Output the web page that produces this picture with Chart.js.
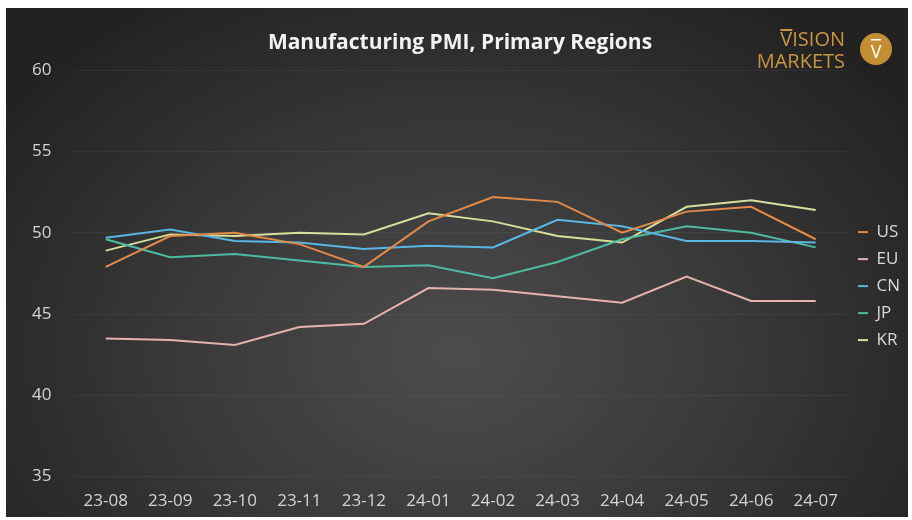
<!DOCTYPE html>
<html>
<head>
<meta charset="utf-8">
<script src="https://cdn.jsdelivr.net/npm/chart.js"></script>
<style>
  html, body { margin: 0; padding: 0; background: #fff; }
  #wrap { position: absolute; left: 6px; top: 8px; width: 902px; height: 509px; }
</style>
</head>
<body>
<div id="wrap"><canvas id="myChart"></canvas></div>
<script>
const months = ['23-08', '23-09', '23-10', '23-11', '23-12', '24-01', '24-02', '24-03', '24-04', '24-05', '24-06', '24-07'];

const usVals = [47.9, 49.8, 50.0, 49.3, 47.9, 50.7, 52.2, 51.9, 50.0, 51.3, 51.6, 49.6];
const euVals = [43.5, 43.4, 43.1, 44.2, 44.4, 46.6, 46.5, 46.1, 45.7, 47.3, 45.8, 45.8];
const cnVals = [49.7, 50.2, 49.5, 49.4, 49.0, 49.2, 49.1, 50.8, 50.4, 49.5, 49.5, 49.4];
const jpVals = [49.6, 48.5, 48.7, 48.3, 47.9, 48.0, 47.2, 48.2, 49.6, 50.4, 50.0, 49.1];
const krVals = [48.9, 49.9, 49.8, 50.0, 49.9, 51.2, 50.7, 49.8, 49.4, 51.6, 52.0, 51.4];

const ctx = document.getElementById('myChart');

// dark radial backdrop
const backdrop = {
  id: 'backdrop',
  beforeDraw(chart) {
    const c = chart.ctx;
    const w = chart.width, h = chart.height;
    c.save();
    c.fillStyle = '#222222';
    c.fillRect(0, 0, w, h);
    c.translate(w / 2, h * 0.68);
    c.scale(1, 0.75);
    const g = c.createRadialGradient(0, 0, 0, 0, 0, w * 0.62);
    g.addColorStop(0, '#4c4c4c');
    g.addColorStop(0.45, '#3b3b3b');
    g.addColorStop(1, '#222222');
    c.fillStyle = g;
    c.fillRect(-w, -h * 2, w * 2, h * 4);
    c.restore();
  }
};

// brand mark, top right
const logo = {
  id: 'logo',
  afterDraw(chart) {
    const c = chart.ctx;
    c.save();
    c.fillStyle = '#c8963e';
    c.font = '20px "Open Sans"';
    c.textAlign = 'right';
    c.textBaseline = 'alphabetic';
    c.fillText('VISION', 839, 38);
    c.fillText('MARKETS', 839, 60);
    const vw = c.measureText('VISION').width;
    c.fillRect(839 - vw, 21, 12, 2);
    c.beginPath();
    c.arc(870, 41, 16, 0, Math.PI * 2);
    c.fillStyle = '#c48f34';
    c.fill();
    c.fillStyle = '#ffffff';
    c.textAlign = 'center';
    c.font = '18px "Open Sans"';
    c.fillText('V', 870, 50);
    c.fillRect(865, 31, 10, 1.5);
    c.restore();
  }
};

function ds(label, data, color) {
  return {
    label: label,
    data: data,
    borderColor: color,
    backgroundColor: color,
    borderWidth: 2,
    pointRadius: 0,
    tension: 0
  };
}

new Chart(ctx, {
  type: 'line',
  data: {
    labels: months,
    datasets: [
      ds('US', usVals, '#e38a48'),
      ds('EU', euVals, '#e6b2ae'),
      ds('CN', cnVals, '#5ab6e2'),
      ds('JP', jpVals, '#4dbba2'),
      ds('KR', krVals, '#d6df9c')
    ]
  },
  options: {
    responsive: true,
    maintainAspectRatio: false,
    animation: false,
    layout: { padding: { left: 4, right: -2, top: 0, bottom: -8 } },
    plugins: {
      title: {
        display: true,
        text: 'Manufacturing PMI, Primary Regions',
        color: '#f2f2f2',
        font: { family: '"Open Sans"', size: 21, weight: '700' },
        padding: { top: 22, bottom: 15 }
      },
      legend: {
        position: 'right',
        title: { display: true, text: ' ', font: { size: 1 }, padding: 19 },
        labels: {
          usePointStyle: true,
          pointStyle: 'line',
          pointStyleWidth: 10,
          color: '#d8d8d8',
          font: { family: '"Open Sans"', size: 17 },
          padding: 10
        }
      },
      tooltip: { enabled: false }
    },
    scales: {
      x: {
        offset: true,
        grid: { display: false, drawTicks: false },
        border: { display: false },
        ticks: {
          color: '#d4d4d4',
          font: { family: '"Open Sans"', size: 17 },
          padding: 14,
          maxRotation: 0
        }
      },
      y: {
        min: 35,
        max: 60,
        grid: { color: 'rgba(255,255,255,0.05)', drawTicks: false },
        border: { display: false },
        ticks: {
          stepSize: 5,
          color: '#d4d4d4',
          font: { family: '"Open Sans"', size: 17 },
          padding: 22
        }
      }
    }
  },
  plugins: [backdrop, logo]
});
</script>
</body>
</html>
